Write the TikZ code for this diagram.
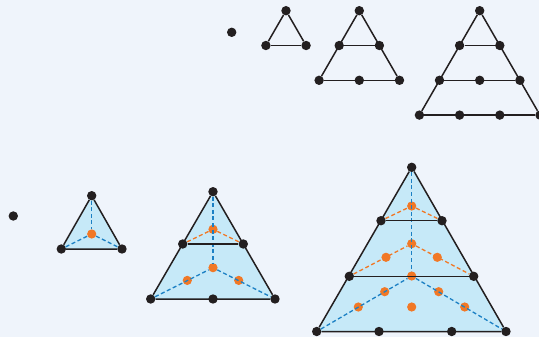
\documentclass[tikz,border=0pt]{standalone}
\usetikzlibrary{backgrounds}
\definecolor{cbg}{RGB}{239,244,251}
\definecolor{cfill}{RGB}{198,233,248}
\definecolor{corange}{RGB}{241,120,38}
\definecolor{cblue}{RGB}{27,128,196}
\definecolor{cdot}{RGB}{35,31,32}
\tikzset{
  tri/.style={x=1pt,y=-1pt},
  dot/.style={circle,fill=cdot,inner sep=0pt,minimum size=9.4pt},
  odot/.style={circle,fill=corange,inner sep=0pt,minimum size=9.2pt},
  edge/.style={cdot,line width=1.5pt},
  bdash/.style={cblue,line width=1.3pt,dash pattern=on 4pt off 2.6pt},
  odash/.style={corange,line width=1.3pt,dash pattern=on 4pt off 2.6pt}
}

\begin{document}
\begin{tikzpicture}[tri]
    \useasboundingbox (0,0) rectangle (539,337);
    % upper row: plain graphs
    \node[dot] (u0) at (231.7,32.3) {};
    \foreach \k/\x/\n in {1/286/1,2/359.3/2,3/479.7/3} {
      \foreach \r in {0,...,\n}
        \foreach \c in {0,...,\r}
          \node[dot] (u\k-\r-\c) at ({\x-20.1*\r+40.2*\c},{10.7+34.8*\r}) {};
      \draw[edge] (u\k-\n-0) -- (u\k-0-0) -- (u\k-\n-\n);
      \foreach \r in {1,...,\n} \draw[edge] (u\k-\r-0) -- (u\k-\r-\r);
    }
    % lower row: filled triangles with inner points
    \node[dot] (l0) at (13.3,216) {};
    \node[dot] (la-t) at (91.7,195.7) {};
    \node[dot] (la-l) at (61.3,249) {};
    \node[dot] (la-r) at (122,249) {};
    \node[odot] (la-o) at (91.7,234) {};
    \node[dot] (lb-t)  at (213,191.7) {};
    \node[dot] (lb-1l) at (182.7,244) {};
    \node[dot] (lb-1r) at (243.3,244) {};
    \node[dot] (lb-2l) at (150.7,299) {};
    \node[dot] (lb-2m) at (213,299) {};
    \node[dot] (lb-2r) at (275,299) {};
    \node[odot] (lb-o1) at (213,229.3) {};
    \node[odot] (lb-o2) at (213,267.7) {};
    \node[odot] (lb-o3) at (187.3,280.4) {};
    \node[odot] (lb-o4) at (238.7,280.4) {};
    \node[dot] (lc-t)  at (411.7,167.3) {};
    \node[dot] (lc-1l) at (381,220.7) {};
    \node[dot] (lc-1r) at (442,220.7) {};
    \node[dot] (lc-2l) at (349.3,276.3) {};
    \node[dot] (lc-2r) at (473.7,276.3) {};
    \node[dot] (lc-3a) at (316.7,331.5) {};
    \node[dot] (lc-3b) at (379,331.5) {};
    \node[dot] (lc-3c) at (451.7,331.5) {};
    \node[dot] (lc-3d) at (506,331.5) {};
    \node[odot] (lc-o1) at (411.7,206) {};
    \node[odot] (lc-o2) at (411.7,243.7) {};
    \node[odot] (lc-o3) at (386,257.3) {};
    \node[odot] (lc-o4) at (437.3,257.3) {};
    \node[odot] (lc-o5) at (411.7,276) {};
    \node[odot] (lc-o6) at (384.7,291.7) {};
    \node[odot] (lc-o7) at (438.7,291.7) {};
    \node[odot] (lc-o8) at (358.3,307) {};
    \node[odot] (lc-o9) at (411.7,307) {};
    \node[odot] (lc-o10) at (464.7,307) {};
    \begin{scope}[on background layer]
      \fill[cbg] (0,0) rectangle (539,337);
      \fill[cfill] (la-t.center) -- (la-l.center) -- (la-r.center) -- cycle;
      \fill[cfill] (lb-t.center) -- (lb-2l.center) -- (lb-2r.center) -- cycle;
      \fill[cfill] (lc-t.center) -- (lc-3a.center) -- (lc-3d.center) -- cycle;
    \end{scope}
    % dashed links
    \draw[bdash] (la-t) -- (la-o);
    \draw[bdash] (la-l) -- (la-o) -- (la-r);
    \draw[bdash] (lb-t) -- (lb-o2);
    \draw[odash] (lb-1l) -- (lb-o1) -- (lb-1r);
    \draw[bdash] (lb-2l) -- (lb-o2) -- (lb-2r);
    \draw[bdash] (lc-t) -- (lc-o5);
    \draw[odash] (lc-1l) -- (lc-o1) -- (lc-1r);
    \draw[odash] (lc-2l) -- (lc-o2) -- (lc-2r);
    \draw[bdash] (lc-3a) -- (lc-o5) -- (lc-3d);
    % outlines
    \draw[edge] (la-l) -- (la-t) -- (la-r) -- (la-l);
    \draw[edge] (lb-2l) -- (lb-t) -- (lb-2r) -- (lb-2l);
    \draw[edge] (lb-1l) -- (lb-1r);
    \draw[edge] (lc-3a) -- (lc-t) -- (lc-3d) -- (lc-3a);
    \draw[edge] (lc-1l) -- (lc-1r);
    \draw[edge] (lc-2l) -- (lc-2r);
  \end{tikzpicture}
\end{document}
